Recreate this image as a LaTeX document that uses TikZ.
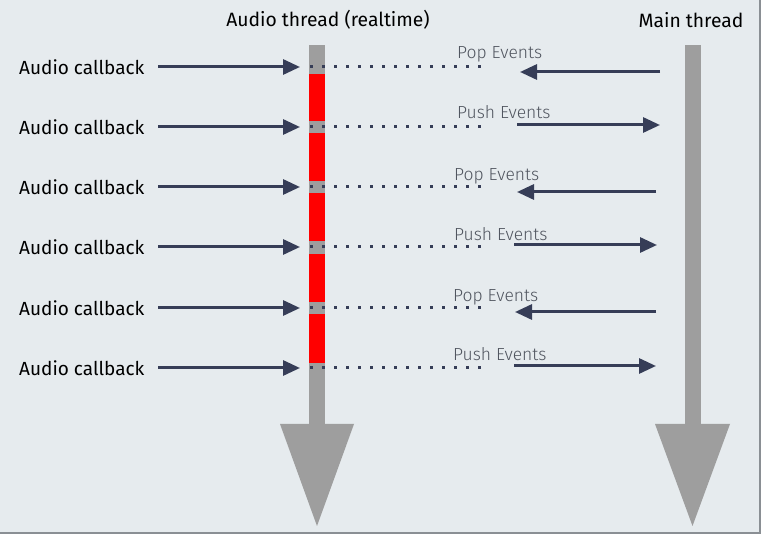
\documentclass[tikz,border=0pt]{standalone}
\usepackage{fontspec}
\setmainfont{Fira Sans}
\newfontfamily\lightfont{Fira Sans Light}
\usetikzlibrary{arrows.meta}
\definecolor{bg}{HTML}{E6EBEE}
\definecolor{navy}{HTML}{363D57}
\definecolor{bargray}{HTML}{9E9E9E}
\definecolor{lblgray}{HTML}{50555F}
\definecolor{frame}{HTML}{8A8F94}
\tikzset{
  cb/.style={anchor=west, inner sep=0pt, text=black, font=\fontsize{19}{22}\selectfont},
  ev/.style={anchor=west, inner sep=0pt, text=lblgray, font=\lightfont\fontsize{17.5}{20}\selectfont},
  title/.style={inner sep=0pt, text=black, font=\fontsize{19.3}{22}\selectfont},
  arr/.style={navy, line width=3pt, -{Triangle[length=17pt,width=15pt]}},
  dots/.style={navy, line width=3pt, dash pattern=on 3pt off 9pt},
}
\begin{document}
\begin{tikzpicture}[x=1pt,y=-1pt]
\fill[bg] (0,0) rectangle (761,534);
\useasboundingbox (0,0) rectangle (761,534);
\draw[frame, line width=2pt] (0,533) -- (760,533) -- (760,0);
% thread bars
\fill[bargray] (309,45) rectangle (325,425);
\fill[bargray] (280,424) -- (354,424) -- (317,526) -- cycle;
\fill[bargray] (685,45) rectangle (701,425);
\fill[bargray] (655,424) -- (730,424) -- (692.5,526) -- cycle;
% red processing segments
\foreach \a/\b in {74/121,133/181,193/241,254/302,314/363}
  \fill[red] (309,\a) rectangle (325,\b);
% titles
\node[title] (tA) at (328,20) {Audio thread (realtime)};
\node[title] (tM) at (691,20) {Main thread};
% rows
\foreach \i/\y/\ly/\lx/\kind/\ry/\ra/\rb in {
  1/67/54/457/Pop/72/660/520,
  2/127/112/457/Push/125/517/660,
  3/187/176/454/Pop/192/656/517,
  4/247/234/454/Push/245/514/657,
  5/308/297/453/Pop/312/656/515,
  6/368/354/453/Push/366/514/656}{
  \node[cb] (cb\i) at (19,\y) {Audio callback};
  \coordinate (in\i) at (300,\y);
  \coordinate (ds\i) at (310,\y);
  \coordinate (de\i) at (482,\y);
  \draw[arr] (158,\y) -- (in\i);
  \draw[dots] (ds\i) -- (de\i);
  \node[ev] (ev\i) at (\lx,\ly) {\kind\ Events};
  \coordinate (ra\i) at (\ra,\ry);
  \coordinate (rb\i) at (\rb,\ry);
  \draw[arr] (ra\i) -- (rb\i);
}
\end{tikzpicture}
\end{document}
